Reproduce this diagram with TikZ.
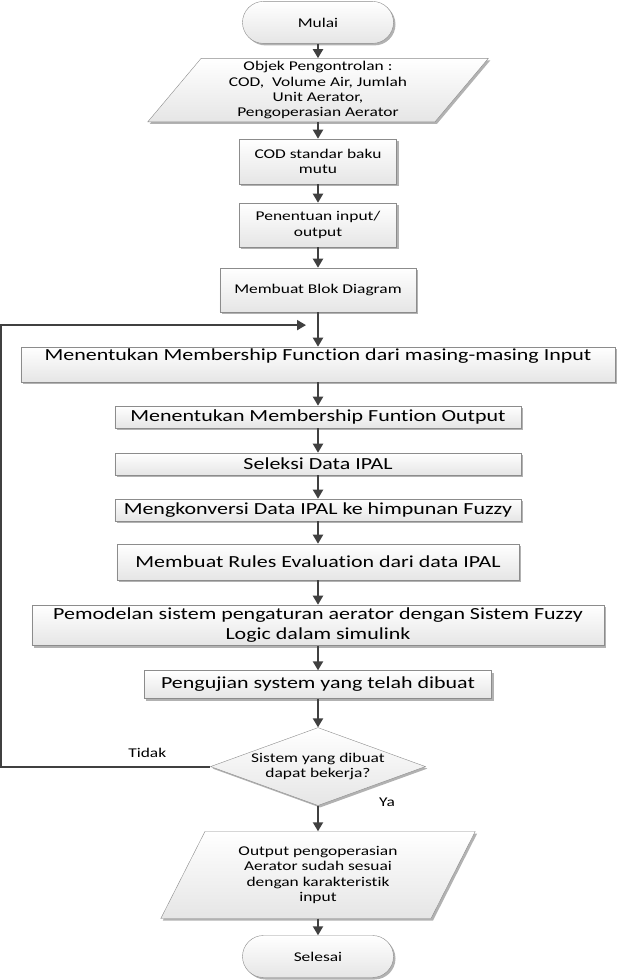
\documentclass[tikz,border=0pt]{standalone}
\usepackage{fontspec}
\setmainfont{Carlito}[FakeStretch=1.3,Ligatures=NoCommon]
\usetikzlibrary{shapes.geometric,shapes.misc,shadows,arrows.meta}
\newcommand{\kecil}{\fontsize{13.4pt}{15.3pt}\selectfont}
\newcommand{\besar}{\fontsize{16.9pt}{20pt}\selectfont}
\definecolor{garis}{HTML}{404040}
\definecolor{tepi}{HTML}{8C8C8C}
\begin{document}
\begin{tikzpicture}[
   font=\kecil,
   every matrix/.style={ampersand replacement=\&,row sep=0pt,inner sep=0pt},
   box/.style={draw=tepi,top color=white,bottom color=gray!20,align=center,inner sep=3pt,
      drop shadow={shadow xshift=2pt,shadow yshift=-2pt,fill=black,opacity=0.3}},
   term/.style={box,rounded rectangle,minimum width=157pt,minimum height=42pt},
   proc/.style={box,rectangle},
   data/.style={box,trapezium,trapezium stretches=true},
   dec/.style={box,diamond,aspect=2.76,inner sep=0pt,minimum width=215pt,minimum height=78pt},
   arr/.style={draw=garis,line width=2pt,-{Triangle[length=9pt,width=10pt]}}]
\useasboundingbox (0,0) rectangle (617pt,-980pt);
\matrix (chart) at (318pt,-1pt) [anchor=north] {
\node[term] (mulai) {Mulai};\\[14.6pt]
\node[data,trapezium left angle=56.5,trapezium right angle=123.5,minimum width=341pt,minimum height=62pt] (objek) {Objek Pengontrolan :\\COD,~ Volume Air, Jumlah\\Unit Aerator,\\Pengoperasian Aerator};\\[16.6pt]
\node[proc,minimum width=157pt,minimum height=45pt] (cod) {COD standar baku\\mutu};\\[18.6pt]
\node[proc,minimum width=157pt,minimum height=44pt] (inout) {Penentuan input/\\output};\\[20.6pt]
\node[proc,minimum width=196pt,minimum height=44pt] (blok) {Membuat Blok Diagram};\\[34.6pt]
\node[proc,font=\besar,text height=11pt,text depth=18pt,minimum width=594pt,minimum height=35pt] (mfin) {Menentukan Membership Function dari masing-masing Input};\\[23.6pt]
\node[proc,font=\besar,minimum width=406pt,minimum height=22pt] (mfout) {Menentukan Membership Funtion Output};\\[24.6pt]
\node[proc,font=\besar,minimum width=406pt,minimum height=22pt] (seleksi) {Seleksi Data IPAL};\\[23.6pt]
\node[proc,font=\besar,minimum width=406pt,minimum height=22pt] (konversi) {Mengkonversi Data IPAL ke himpunan Fuzzy};\\[22.6pt]
\node[proc,font=\besar,minimum width=402pt,minimum height=36pt] (rules) {Membuat Rules Evaluation dari data IPAL};\\[24.6pt]
\node[proc,font=\besar,minimum width=572pt,minimum height=40pt] (model) {Pemodelan sistem pengaturan aerator dengan Sistem Fuzzy\\Logic dalam simulink};\\[24.6pt]
\node[proc,font=\besar,minimum width=347pt,minimum height=28pt] (uji) {Pengujian system yang telah dibuat};\\[28.6pt]
\node[dec] (cek) {Sistem yang dibuat\\dapat bekerja?};\\[25.6pt]
\node[data,trapezium left angle=63,trapezium right angle=117,minimum width=315pt,minimum height=87pt] (hasil) {Output pengoperasian\\Aerator sudah sesuai\\dengan karakteristik\\input};\\[16.6pt]
\node[term] (selesai) {Selesai};\\
};
\draw[arr] (mulai.south) -- (objek.north);
\draw[arr] (objek.south) -- (cod.north);
\draw[arr] (cod.south) -- (inout.north);
\draw[arr] (inout.south) -- (blok.north);
\draw[arr] (blok.south) -- (mfin.north);
\draw[arr] (mfin.south) -- (mfout.north);
\draw[arr] (mfout.south) -- (seleksi.north);
\draw[arr] (seleksi.south) -- (konversi.north);
\draw[arr] (konversi.south) -- (rules.north);
\draw[arr] (rules.south) -- (model.north);
\draw[arr] (model.south) -- (uji.north);
\draw[arr] (uji.south) -- (cek.north);
\draw[arr] (cek.south) -- (hasil.north);
\draw[arr] (hasil.south) -- (selesai.north);
% kembali ke membership function
\coordinate (join) at ([shift={(-12pt,-13pt)}]blok.south);
\coordinate (back) at ([xshift=-305pt]join);
\draw[arr] (cek.west) -| (back) -- (join);
\node (tidak) at ([shift={(-63pt,14pt)}]cek.west) {Tidak};
\node (ya) at ([shift={(69pt,4pt)}]cek.south) {Ya};
\end{tikzpicture}
\end{document}
